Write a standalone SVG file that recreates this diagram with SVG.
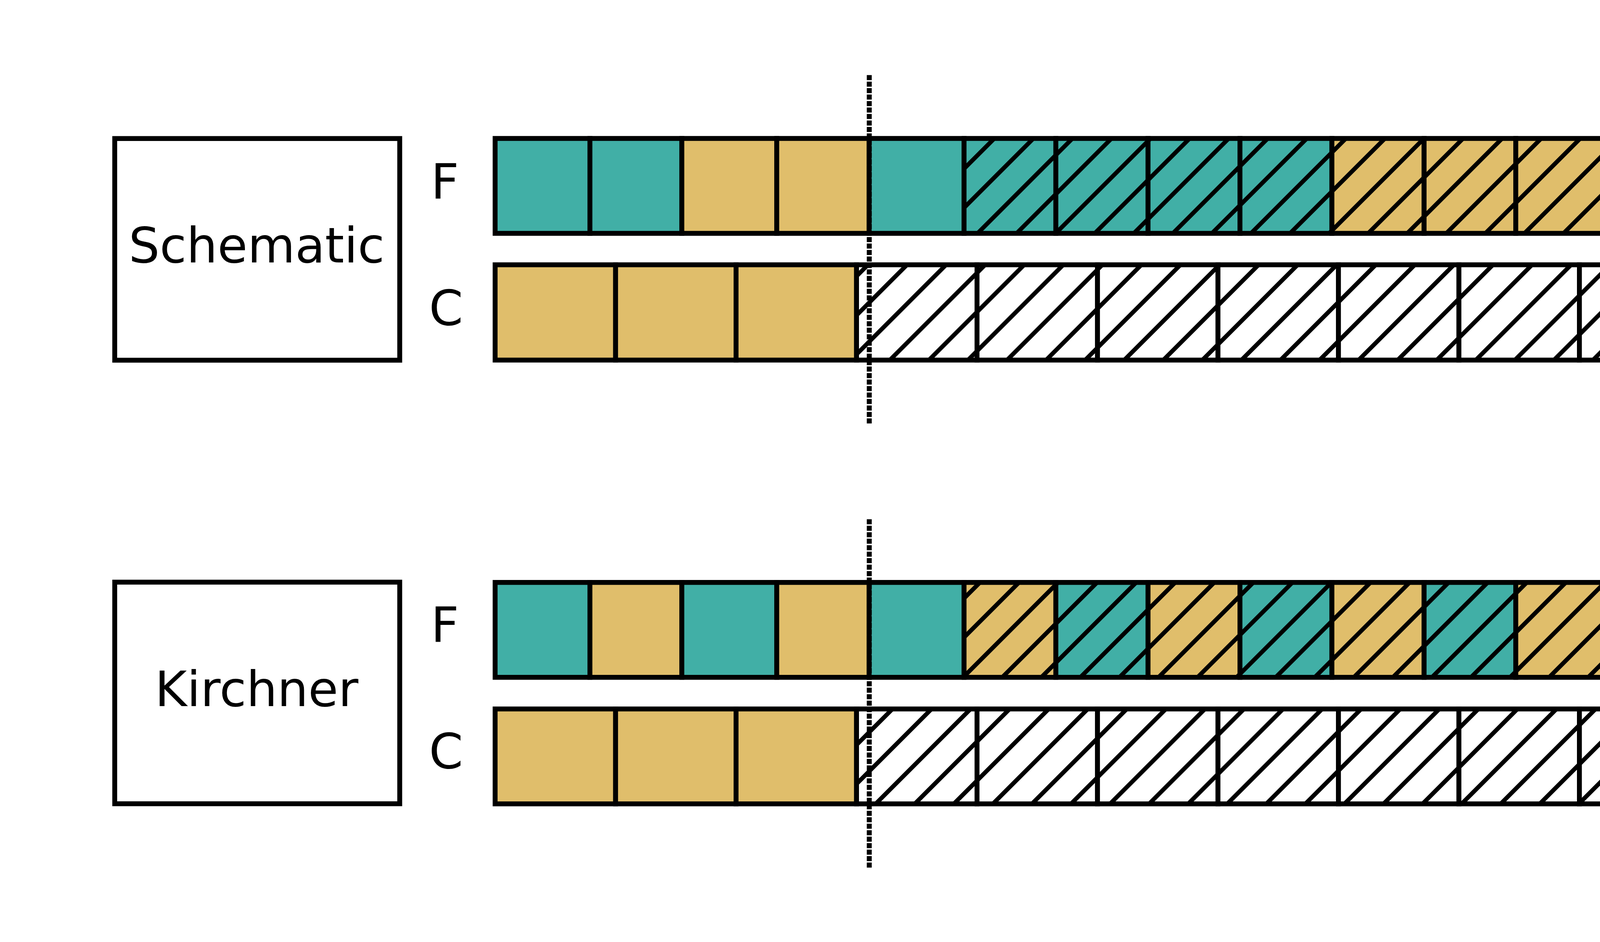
<svg xmlns="http://www.w3.org/2000/svg" width="4643" height="2412" viewBox="0 0 4643 2412">
  <style>
    .box { fill: #ffffff; stroke: #000000; stroke-width: 12.5; }
    .cell { stroke: #000000; stroke-width: 12.5; }
    .t { fill: #41AFA6; }
    .y { fill: #E0BE6B; }
    .th { fill: url(#hatch-teal); }
    .yh { fill: url(#hatch-yellow); }
    .wh { fill: url(#hatch-white); }
    .title { font-family: "DejaVu Sans", "Liberation Sans", sans-serif; font-size: 125px; fill: #000000; text-anchor: middle; }
    .lbl { font-family: "DejaVu Sans", "Liberation Sans", sans-serif; font-size: 125px; fill: #000000; }
    .divider { stroke: #000000; stroke-width: 12.7; stroke-dasharray: 13 3.585; fill: none; }
  </style>
  <defs>
    <pattern id="hatch-teal" patternUnits="userSpaceOnUse" x="0" y="0" width="100" height="100">
      <rect x="0" y="0" width="100" height="100" fill="#41AFA6"/>
      <path d="M-10,110 L110,-10 M-10,10 L10,-10 M90,110 L110,90" stroke="#000000" stroke-width="11"/>
    </pattern>
    <pattern id="hatch-yellow" patternUnits="userSpaceOnUse" x="0" y="0" width="100" height="100">
      <rect x="0" y="0" width="100" height="100" fill="#E0BE6B"/>
      <path d="M-10,110 L110,-10 M-10,10 L10,-10 M90,110 L110,90" stroke="#000000" stroke-width="11"/>
    </pattern>
    <pattern id="hatch-white" patternUnits="userSpaceOnUse" x="0" y="0" width="100" height="100">
      <rect x="0" y="0" width="100" height="100" fill="#ffffff"/>
      <path d="M-10,110 L110,-10 M-10,10 L10,-10 M90,110 L110,90" stroke="#000000" stroke-width="11"/>
    </pattern>
  </defs>
  <rect x="0" y="0" width="4643" height="2412" fill="#ffffff"/>

  <!-- Schematic section -->
  <g id="node-schematic">
    <rect class="box" x="293.7" y="354.7" width="729.6" height="567.6"/>
    <text class="title" x="657" y="671.6">Schematic</text>
  </g>
  <g id="label-schematic-F"><text class="lbl" x="1103" y="509">F</text></g>
  <g id="label-schematic-C"><text class="lbl" x="1098.3" y="831.7">C</text></g>

  <g id="bar-schematic-F">
    <rect class="cell t" x="1267.5" y="354.5" width="242.7" height="243"/>
    <rect class="cell t" x="1510.2" y="354.5" width="235.3" height="243"/>
    <rect class="cell y" x="1745.5" y="354.5" width="243" height="243"/>
    <rect class="cell y" x="1988.5" y="354.5" width="236.5" height="243"/>
    <rect class="cell t" x="2225" y="354.5" width="243" height="243"/>
    <rect class="cell th" x="2468" y="354.5" width="235" height="243"/>
    <rect class="cell th" x="2703" y="354.5" width="236" height="243"/>
    <rect class="cell th" x="2939" y="354.5" width="235.3" height="243"/>
    <rect class="cell th" x="3174.3" y="354.5" width="235.4" height="243"/>
    <rect class="cell yh" x="3409.7" y="354.5" width="236" height="243"/>
    <rect class="cell yh" x="3645.7" y="354.5" width="234.7" height="243"/>
    <rect class="cell yh" x="3880.4" y="354.5" width="236" height="243"/>
    <rect class="cell yh" x="4116.4" y="354.5" width="235.3" height="243"/>
  </g>
  <g id="bar-schematic-C">
    <rect class="cell y" x="1267.5" y="678" width="308.42" height="244"/>
    <rect class="cell y" x="1575.92" y="678" width="308.42" height="244"/>
    <rect class="cell y" x="1884.34" y="678" width="308.42" height="244"/>
    <rect class="cell wh" x="2192.76" y="678" width="308.42" height="244"/>
    <rect class="cell wh" x="2501.18" y="678" width="308.42" height="244"/>
    <rect class="cell wh" x="2809.6" y="678" width="308.42" height="244"/>
    <rect class="cell wh" x="3118.02" y="678" width="308.42" height="244"/>
    <rect class="cell wh" x="3426.44" y="678" width="308.42" height="244"/>
    <rect class="cell wh" x="3734.86" y="678" width="308.42" height="244"/>
    <rect class="cell wh" x="4043.28" y="678" width="308.42" height="244"/>
  </g>

  <!-- Kirchner section -->
  <g id="node-kirchner">
    <rect class="box" x="293.7" y="1490.6" width="729.6" height="567.4"/>
    <text class="title" x="657" y="1808.2">Kirchner</text>
  </g>
  <g id="label-kirchner-F"><text class="lbl" x="1103" y="1644.3">F</text></g>
  <g id="label-kirchner-C"><text class="lbl" x="1098.3" y="1967">C</text></g>

  <g id="bar-kirchner-F">
    <rect class="cell t" x="1267.5" y="1491.3" width="242.7" height="243"/>
    <rect class="cell y" x="1510.2" y="1491.3" width="235.3" height="243"/>
    <rect class="cell t" x="1745.5" y="1491.3" width="243" height="243"/>
    <rect class="cell y" x="1988.5" y="1491.3" width="236.5" height="243"/>
    <rect class="cell t" x="2225" y="1491.3" width="243" height="243"/>
    <rect class="cell yh" x="2468" y="1491.3" width="235" height="243"/>
    <rect class="cell th" x="2703" y="1491.3" width="236" height="243"/>
    <rect class="cell yh" x="2939" y="1491.3" width="235.3" height="243"/>
    <rect class="cell th" x="3174.3" y="1491.3" width="235.4" height="243"/>
    <rect class="cell yh" x="3409.7" y="1491.3" width="236" height="243"/>
    <rect class="cell th" x="3645.7" y="1491.3" width="234.7" height="243"/>
    <rect class="cell yh" x="3880.4" y="1491.3" width="236" height="243"/>
    <rect class="cell th" x="4116.4" y="1491.3" width="235.3" height="243"/>
  </g>
  <g id="bar-kirchner-C">
    <rect class="cell y" x="1267.5" y="1815.3" width="308.42" height="243"/>
    <rect class="cell y" x="1575.92" y="1815.3" width="308.42" height="243"/>
    <rect class="cell y" x="1884.34" y="1815.3" width="308.42" height="243"/>
    <rect class="cell wh" x="2192.76" y="1815.3" width="308.42" height="243"/>
    <rect class="cell wh" x="2501.18" y="1815.3" width="308.42" height="243"/>
    <rect class="cell wh" x="2809.6" y="1815.3" width="308.42" height="243"/>
    <rect class="cell wh" x="3118.02" y="1815.3" width="308.42" height="243"/>
    <rect class="cell wh" x="3426.44" y="1815.3" width="308.42" height="243"/>
    <rect class="cell wh" x="3734.86" y="1815.3" width="308.42" height="243"/>
    <rect class="cell wh" x="4043.28" y="1815.3" width="308.42" height="243"/>
  </g>

  <g id="connectors">
    <line class="divider" x1="2225.3" y1="192.3" x2="2225.3" y2="1084.3"/>
    <line class="divider" x1="2225.3" y1="1329.6" x2="2225.3" y2="2221.6"/>
  </g>
</svg>
